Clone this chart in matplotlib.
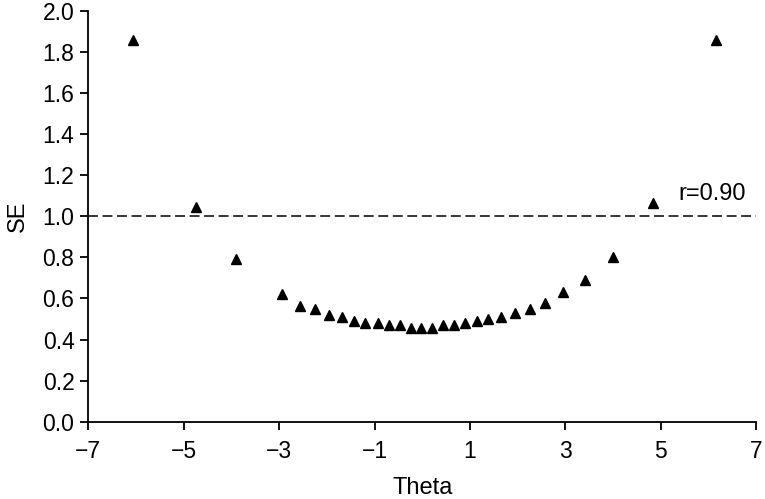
import matplotlib.pyplot as plt

plt.rcParams['font.family'] = ['Liberation Sans', 'DejaVu Sans']

# values
theta = [-6.07, -4.74, -3.91, -2.94, -2.57, -2.25, -1.96, -1.68, -1.43, -1.19,
         -0.93, -0.70, -0.47, -0.23, -0.02, 0.20, 0.44, 0.67, 0.90, 1.14,
         1.38, 1.66, 1.94, 2.26, 2.58, 2.96, 3.41, 3.99, 4.83, 6.15]
se = [1.859, 1.047, 0.791, 0.621, 0.565, 0.547, 0.521, 0.510, 0.490, 0.482,
      0.482, 0.469, 0.469, 0.458, 0.458, 0.458, 0.469, 0.469, 0.482, 0.492,
      0.500, 0.510, 0.528, 0.547, 0.580, 0.630, 0.690, 0.804, 1.064, 1.859]
xticks = [-7, -5, -3, -1, 1, 3, 5, 7]
yticks = [0.0, 0.2, 0.4, 0.6, 0.8, 1.0, 1.2, 1.4, 1.6, 1.8, 2.0]
ref_line = 1.0
note = "r=0.90"

fig = plt.figure(figsize=(7.65, 4.99), dpi=100)
ax = fig.add_axes([0.1154, 0.155, 0.873, 0.823])

ax.plot(theta, se, linestyle='none', marker='^', ms=6.5, color='black')
ax.axhline(ref_line, color='black', lw=1.1, ls=(0, (6.5, 3)))
ax.text(5.36, 1.11, note, fontsize=17, va='center', ha='left')

ax.set_xlim(-7, 7)
ax.set_ylim(0, 2.0)
ax.set_xticks(xticks)
ax.set_xticklabels([str(t).replace('-', '\u2212') for t in xticks])
ax.set_yticks(yticks)
ax.set_yticklabels([f"{t:.1f}" for t in yticks])
ax.tick_params(labelsize=16.5, length=6, width=1.3, color='black')
ax.tick_params(axis='x', pad=7)
ax.tick_params(axis='y', pad=4)

for s in ['top', 'right']:
    ax.spines[s].set_visible(False)
for s in ['left', 'bottom']:
    ax.spines[s].set_linewidth(1.3)

ax.set_xlabel('Theta', fontsize=17, labelpad=10)
ax.set_ylabel('SE', fontsize=17, labelpad=10)

fig.savefig('out.png', dpi=100)
